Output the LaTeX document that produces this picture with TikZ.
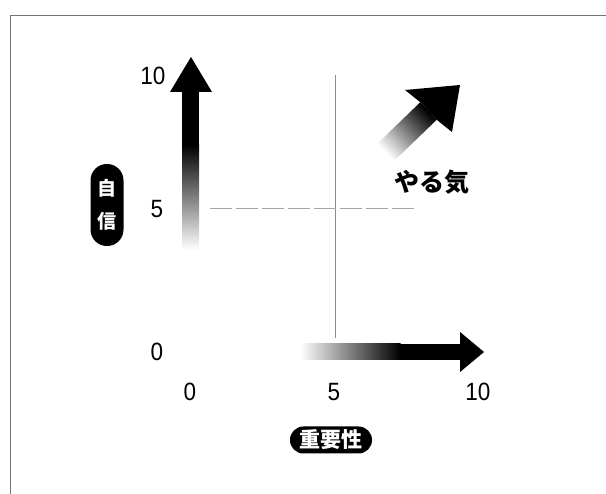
\documentclass[tikz,border=0pt]{standalone}
\usepackage{fontspec}
\setmainfont{Liberation Sans}
\newfontfamily\numfont[FakeStretch=0.9]{Liberation Sans}
\newfontfamily\jp{Noto Sans CJK JP}
\begin{document}
\begin{tikzpicture}[x=1pt,y=-1pt,
  num/.style={font=\numfont\fontsize{25}{25}\selectfont, inner sep=0pt},
  pill/.style={fill=black, text=white, inner sep=0pt, align=center},
  guide/.style={black!45, line width=0.6pt},
  frame/.style={black!55, line width=0.8pt}]
\useasboundingbox (0,0) rectangle (606,494);
% frame
\coordinate (fbl) at (10,494);
\coordinate (ftl) at (10,15);
\coordinate (ftr) at (606,15);
\draw[frame] (fbl) -- (ftl) -- (ftr);
% guide lines
\coordinate (vtop) at (335,75);
\coordinate (vbot) at (335,338);
\draw[guide] (vtop) -- (vbot);
\coordinate (hl) at (210,208);
\coordinate (hr) at (415,208);
\draw[guide, black!35, dash pattern=on 22pt off 4pt] (hl) -- (hr);
% vertical arrow
\fill[black] (182,91) rectangle (199,145);
\shade[top color=black, bottom color=white] (182,144.5) rectangle (199,250);
\fill[black] (170,92) -- (191,57) -- (212,92) -- cycle;
% horizontal arrow
\fill[black] (400,344) rectangle (461,360);
\shade[left color=white, right color=black] (300,344) rectangle (400.5,360);
\fill[black] (460,332) -- (484,352) -- (460,372) -- cycle;
% diagonal arrow
\shade[top color=black, middle color=black, bottom color=white, shading angle=-47]
  (420.3,102.2) -- (436.7,119.8) -- (393.2,161.8) -- (376.8,144.2) -- cycle;
\fill[black] (460,85) -- (405,90) -- (420.3,102.2) -- (436.7,119.8) -- (452,132) -- cycle;
% labels
\node[num] (y0) at (157,352) {0};
\node[num] (y5) at (157,209) {5};
\node[num] (y10) at (153,76) {10};
\node[num] (x0) at (190,392) {0};
\node[num] (x5) at (334,392) {5};
\node[num] (x10) at (478,392) {10};
\node[pill, minimum width=33pt, minimum height=82pt, rounded corners=16.4pt,
      font=\jp\bfseries\fontsize{19}{33}\selectfont] (conf) at (107,205) {自\\信};
\node[pill, minimum width=82pt, minimum height=27pt, rounded corners=13.4pt,
      font=\jp\bfseries\fontsize{21}{21}\selectfont] (imp) at (331,440) {重要性};
\node[font=\jp\bfseries\fontsize{25}{25}\selectfont, inner sep=0pt] (yaruki) at (432,182) {やる気};
\end{tikzpicture}
\end{document}
